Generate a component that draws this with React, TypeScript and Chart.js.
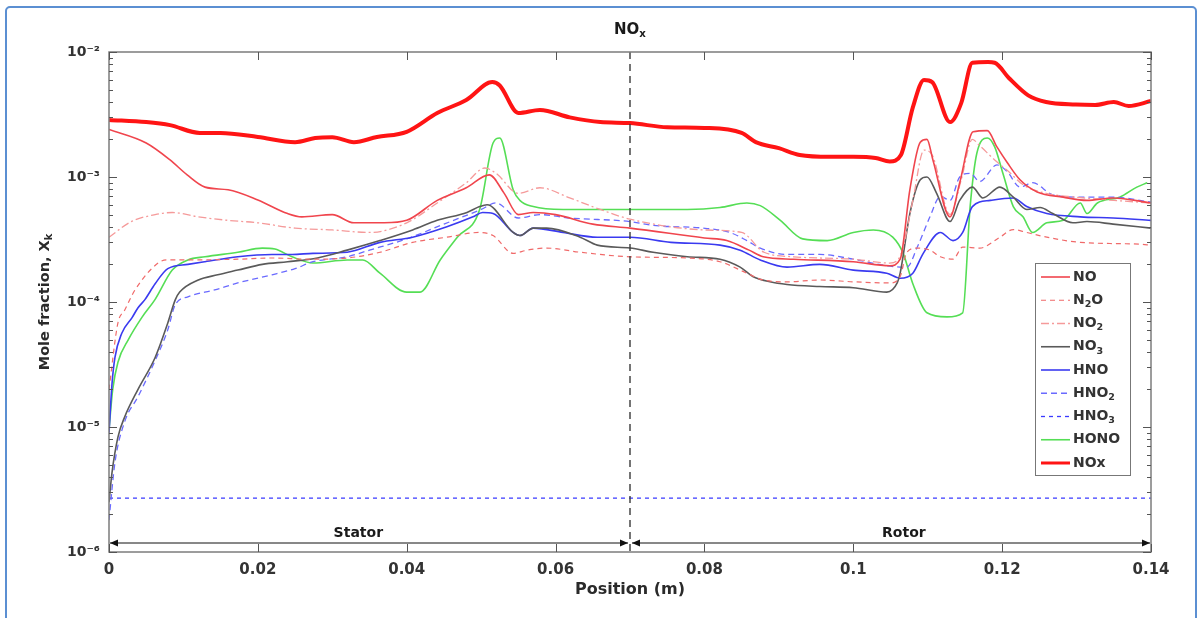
import React, { useEffect, useRef } from 'react';
import { Chart, registerables } from 'chart.js';

Chart.register(...registerables);

type Pt = [number, number];

// ---------- axes / annotations ----------
const X_TICKS = [0, 0.02, 0.04, 0.06, 0.08, 0.1, 0.12, 0.14];
const Y_DECADES = [1e-6, 1e-5, 1e-4, 1e-3, 1e-2];
const Y_TICK_LABELS = ['10⁻⁶', '10⁻⁵', '10⁻⁴', '10⁻³', '10⁻²'];
const BOUNDARY_X = 0.07;
const ZONES = ['Stator', 'Rotor'];
const ZONE_LABEL_X = [0.0335, 0.1068];

// ---------- series: [position (m), mole fraction] ----------
const NOX: Pt[] = [
  [0, 2.86e-3], [0.005, 2.75e-3], [0.0082, 2.6e-3], [0.0122, 2.25e-3], [0.015, 2.25e-3],
  [0.02, 2.09e-3], [0.025, 1.9e-3], [0.0277, 2.05e-3], [0.03, 2.08e-3], [0.0329, 1.9e-3],
  [0.036, 2.09e-3], [0.04, 2.3e-3], [0.0441, 3.25e-3], [0.048, 4.13e-3], [0.0515, 5.75e-3],
  [0.0525, 5.4e-3], [0.055, 3.25e-3], [0.0579, 3.44e-3], [0.0619, 3.0e-3], [0.066, 2.75e-3],
  [0.07, 2.7e-3], [0.075, 2.5e-3], [0.08, 2.47e-3], [0.085, 2.25e-3], [0.0869, 1.9e-3],
  [0.09, 1.7e-3], [0.0928, 1.5e-3], [0.0969, 1.45e-3], [0.1, 1.45e-3], [0.103, 1.42e-3],
  [0.1049, 1.33e-3], [0.1064, 1.5e-3], [0.108, 3.6e-3], [0.1095, 5.97e-3], [0.1106, 5.75e-3],
  [0.113, 2.75e-3], [0.1145, 3.9e-3], [0.116, 8.2e-3], [0.1181, 8.3e-3], [0.119, 8.2e-3],
  [0.1209, 6.2e-3], [0.1235, 4.5e-3], [0.1259, 3.98e-3], [0.1299, 3.8e-3], [0.1325, 3.77e-3],
  [0.135, 3.98e-3], [0.137, 3.7e-3], [0.14, 4.05e-3],
];

const NO: Pt[] = [
  [0, 2.4e-3], [0.005, 1.87e-3], [0.0082, 1.37e-3], [0.0105, 1.04e-3], [0.0129, 8.3e-4],
  [0.016, 7.9e-4], [0.02, 6.55e-4], [0.024, 5.1e-4], [0.0259, 4.8e-4], [0.03, 5.0e-4],
  [0.0329, 4.3e-4], [0.037, 4.3e-4], [0.04, 4.5e-4], [0.0441, 6.5e-4], [0.048, 8.2e-4],
  [0.0511, 1.04e-3], [0.0531, 7.4e-4], [0.055, 5.0e-4], [0.057, 5.2e-4], [0.06, 5.0e-4],
  [0.065, 4.2e-4], [0.07, 3.9e-4], [0.08, 3.25e-4], [0.083, 3.1e-4], [0.086, 2.6e-4],
  [0.0879, 2.3e-4], [0.092, 2.2e-4], [0.1, 2.1e-4], [0.1049, 1.95e-4], [0.1063, 2.2e-4],
  [0.1076, 7.9e-4], [0.109, 1.9e-3], [0.1099, 2.0e-3], [0.1107, 1.37e-3], [0.113, 4.8e-4],
  [0.1143, 9.0e-4], [0.1161, 2.3e-3], [0.118, 2.35e-3], [0.1193, 1.74e-3], [0.1207, 1.3e-3],
  [0.1224, 9.5e-4], [0.1247, 7.6e-4], [0.1282, 6.9e-4], [0.1314, 6.5e-4], [0.1349, 6.8e-4],
  [0.14, 6.2e-4],
];

const N2O: Pt[] = [
  [0, 2.0e-5], [0.0012, 6.8e-5], [0.0021, 8.6e-5], [0.0035, 1.25e-4], [0.0066, 2.05e-4],
  [0.0078, 2.17e-4], [0.0106, 2.17e-4], [0.0173, 2.2e-4], [0.0219, 2.25e-4], [0.027, 2.2e-4],
  [0.032, 2.25e-4], [0.0364, 2.5e-4], [0.0408, 3.0e-4], [0.0454, 3.3e-4], [0.0498, 3.6e-4],
  [0.0516, 3.4e-4], [0.0543, 2.45e-4], [0.0562, 2.6e-4], [0.0588, 2.7e-4], [0.0633, 2.5e-4],
  [0.07, 2.3e-4], [0.0777, 2.25e-4], [0.0821, 2.1e-4], [0.0857, 1.7e-4], [0.0879, 1.5e-4],
  [0.0911, 1.45e-4], [0.0955, 1.5e-4], [0.1, 1.45e-4], [0.1049, 1.42e-4], [0.1063, 1.6e-4],
  [0.1072, 2.5e-4], [0.1086, 2.7e-4], [0.1103, 2.6e-4], [0.1117, 2.3e-4], [0.1134, 2.2e-4],
  [0.1147, 2.75e-4], [0.117, 2.7e-4], [0.1197, 3.3e-4], [0.1215, 3.8e-4], [0.1233, 3.6e-4],
  [0.126, 3.3e-4], [0.1305, 3.0e-4], [0.1385, 2.9e-4], [0.14, 2.85e-4],
];

const NO2: Pt[] = [
  [0, 3.3e-4], [0.003, 4.4e-4], [0.0062, 5.0e-4], [0.0085, 5.2e-4], [0.012, 4.8e-4],
  [0.016, 4.5e-4], [0.02, 4.3e-4], [0.025, 3.9e-4], [0.03, 3.77e-4], [0.035, 3.6e-4],
  [0.04, 4.3e-4], [0.0441, 6.2e-4], [0.048, 9.0e-4], [0.0505, 1.18e-3], [0.052, 1.07e-3],
  [0.055, 7.4e-4], [0.0579, 8.2e-4], [0.0619, 6.8e-4], [0.066, 5.5e-4], [0.07, 4.6e-4],
  [0.08, 3.77e-4], [0.085, 3.6e-4], [0.088, 2.5e-4], [0.092, 2.3e-4], [0.1, 2.2e-4],
  [0.1049, 2.05e-4], [0.1064, 2.4e-4], [0.108, 6.5e-4], [0.1095, 1.64e-3], [0.1106, 1.5e-3],
  [0.113, 5.0e-4], [0.1145, 9.5e-4], [0.116, 2.0e-3], [0.1169, 1.8e-3], [0.119, 1.37e-3],
  [0.1209, 1.1e-3], [0.1229, 8.6e-4], [0.1259, 7.4e-4], [0.1299, 6.9e-4], [0.135, 6.5e-4],
  [0.14, 6.2e-4],
];

const NO3: Pt[] = [
  [0, 2.5e-6], [0.0004, 4.3e-6], [0.0012, 8.3e-6], [0.0021, 1.2e-5], [0.0039, 2.0e-5],
  [0.0062, 3.6e-5], [0.0079, 6.8e-5], [0.0089, 1.04e-4], [0.0095, 1.2e-4], [0.012, 1.5e-4],
  [0.0146, 1.65e-4], [0.0173, 1.8e-4], [0.0206, 2.0e-4], [0.024, 2.1e-4], [0.028, 2.25e-4],
  [0.032, 2.6e-4], [0.0364, 3.1e-4], [0.0408, 3.77e-4], [0.0441, 4.5e-4], [0.0481, 5.2e-4],
  [0.0498, 5.8e-4], [0.0508, 6.0e-4], [0.0543, 3.6e-4], [0.0552, 3.4e-4], [0.057, 3.9e-4],
  [0.0588, 3.9e-4], [0.0633, 3.3e-4], [0.0656, 2.85e-4], [0.07, 2.7e-4], [0.0731, 2.5e-4],
  [0.0777, 2.3e-4], [0.0821, 2.2e-4], [0.0848, 1.9e-4], [0.0865, 1.6e-4], [0.0888, 1.45e-4],
  [0.0911, 1.38e-4], [0.0955, 1.33e-4], [0.1, 1.3e-4], [0.1045, 1.2e-4], [0.1059, 1.42e-4],
  [0.1063, 1.7e-4], [0.1076, 5.1e-4], [0.109, 9.5e-4], [0.1099, 1.0e-3], [0.1112, 7.4e-4],
  [0.113, 4.4e-4], [0.1143, 6.5e-4], [0.116, 8.3e-4], [0.1174, 6.8e-4], [0.1197, 8.3e-4],
  [0.1215, 6.9e-4], [0.1233, 5.5e-4], [0.1251, 5.7e-4], [0.1268, 5.1e-4], [0.1295, 4.3e-4],
  [0.1314, 4.4e-4], [0.1349, 4.2e-4], [0.14, 3.9e-4],
];

const HNO: Pt[] = [
  [0, 9e-6], [0.0004, 2.2e-5], [0.0008, 3.6e-5], [0.0017, 5.6e-5], [0.0031, 7.5e-5],
  [0.0039, 9e-5], [0.0048, 1.04e-4], [0.0062, 1.4e-4], [0.0079, 1.85e-4], [0.0106, 2.0e-4],
  [0.0129, 2.1e-4], [0.0173, 2.3e-4], [0.0219, 2.4e-4], [0.0246, 2.4e-4], [0.0274, 2.45e-4],
  [0.032, 2.5e-4], [0.0364, 3.0e-4], [0.0408, 3.3e-4], [0.0454, 4.0e-4], [0.0489, 4.8e-4],
  [0.0502, 5.2e-4], [0.0516, 5.1e-4], [0.0543, 3.6e-4], [0.0552, 3.4e-4], [0.057, 3.9e-4],
  [0.061, 3.6e-4], [0.0656, 3.3e-4], [0.07, 3.3e-4], [0.0755, 3.0e-4], [0.0821, 2.85e-4],
  [0.0848, 2.6e-4], [0.0875, 2.17e-4], [0.0911, 1.9e-4], [0.0955, 2.0e-4], [0.1, 1.8e-4],
  [0.1045, 1.7e-4], [0.1063, 1.55e-4], [0.108, 1.7e-4], [0.1094, 2.45e-4], [0.1117, 3.6e-4],
  [0.1134, 3.1e-4], [0.1147, 3.6e-4], [0.116, 5.8e-4], [0.1184, 6.5e-4], [0.1215, 6.8e-4],
  [0.1233, 5.8e-4], [0.126, 5.1e-4], [0.1305, 4.8e-4], [0.1349, 4.7e-4], [0.14, 4.5e-4],
];

const HNO2: Pt[] = [
  [0, 1.8e-6], [0.0008, 5.2e-6], [0.0021, 1.1e-5], [0.0039, 1.75e-5], [0.0062, 3.4e-5],
  [0.0079, 6.0e-5], [0.0089, 9.5e-5], [0.0106, 1.1e-4], [0.0142, 1.25e-4], [0.0173, 1.42e-4],
  [0.0219, 1.65e-4], [0.025, 1.85e-4], [0.0274, 2.1e-4], [0.032, 2.3e-4], [0.035, 2.6e-4],
  [0.04, 3.2e-4], [0.045, 4.2e-4], [0.05, 5.5e-4], [0.052, 6.2e-4], [0.055, 4.7e-4],
  [0.0579, 5.0e-4], [0.0619, 4.7e-4], [0.07, 4.4e-4], [0.0731, 4.1e-4], [0.0798, 3.9e-4],
  [0.0834, 3.6e-4], [0.0857, 3.1e-4], [0.0875, 2.7e-4], [0.0911, 2.4e-4], [0.0955, 2.4e-4],
  [0.1, 2.2e-4], [0.1045, 1.95e-4], [0.1072, 1.9e-4], [0.1086, 2.75e-4], [0.1103, 4.8e-4],
  [0.1117, 7.0e-4], [0.113, 6.5e-4], [0.1143, 1.0e-3], [0.1157, 1.07e-3], [0.117, 9.2e-4],
  [0.1193, 1.25e-3], [0.1207, 1.1e-3], [0.1224, 8.3e-4], [0.1241, 9.0e-4], [0.1268, 7.2e-4],
  [0.1305, 6.9e-4], [0.1349, 6.9e-4], [0.14, 6.3e-4],
];

const HNO3: Pt[] = [
  [0, 2.7e-6], [0.02, 2.7e-6], [0.04, 2.7e-6], [0.06, 2.7e-6], [0.08, 2.7e-6],
  [0.1, 2.7e-6], [0.12, 2.7e-6], [0.14, 2.7e-6],
];

const HONO: Pt[] = [
  [0, 9.5e-6], [0.0005, 2.0e-5], [0.0012, 3.3e-5], [0.0026, 5.0e-5], [0.0044, 7.5e-5],
  [0.0062, 1.05e-4], [0.0085, 1.8e-4], [0.0106, 2.17e-4], [0.0129, 2.3e-4], [0.0173, 2.5e-4],
  [0.0206, 2.7e-4], [0.0223, 2.65e-4], [0.0246, 2.3e-4], [0.0274, 2.05e-4], [0.032, 2.17e-4],
  [0.0341, 2.17e-4], [0.0364, 1.7e-4], [0.04, 1.2e-4], [0.0418, 1.2e-4], [0.0445, 2.17e-4],
  [0.0468, 3.3e-4], [0.0498, 5.5e-4], [0.0516, 1.87e-3], [0.0525, 2.05e-3], [0.0543, 7.9e-4],
  [0.0552, 6.5e-4], [0.057, 5.8e-4], [0.061, 5.5e-4], [0.07, 5.5e-4], [0.0777, 5.5e-4],
  [0.0821, 5.7e-4], [0.0857, 6.2e-4], [0.0875, 5.9e-4], [0.0902, 4.5e-4], [0.0932, 3.2e-4],
  [0.0965, 3.1e-4], [0.1, 3.6e-4], [0.1027, 3.77e-4], [0.1053, 3.3e-4], [0.1067, 2.45e-4],
  [0.108, 1.4e-4], [0.1099, 8.2e-5], [0.1126, 7.6e-5], [0.1147, 8.2e-5], [0.1157, 5.8e-4],
  [0.1166, 1.55e-3], [0.118, 2.05e-3], [0.119, 1.74e-3], [0.1201, 1.07e-3], [0.1215, 5.8e-4],
  [0.1228, 4.8e-4], [0.1241, 3.6e-4], [0.126, 4.3e-4], [0.1282, 4.5e-4], [0.1305, 6.2e-4],
  [0.1314, 5.1e-4], [0.1328, 6.2e-4], [0.1358, 6.9e-4], [0.1381, 8.3e-4], [0.1395, 9.0e-4],
];

// legend label parts: [text, isSubscript]
type Part = [string, boolean];
const SERIES: { parts: Part[]; data: Pt[]; color: string; width: number; dash: number[] }[] = [
  { parts: [['NO', false]], data: NO, color: '#f0454d', width: 1.6, dash: [] },
  { parts: [['N', false], ['2', true], ['O', false]], data: N2O, color: '#f06a6a', width: 1.2, dash: [5, 4] },
  { parts: [['NO', false], ['2', true]], data: NO2, color: '#f59a9a', width: 1.3, dash: [8, 3, 2, 3] },
  { parts: [['NO', false], ['3', true]], data: NO3, color: '#5a5a5a', width: 1.6, dash: [] },
  { parts: [['HNO', false]], data: HNO, color: '#3a3af0', width: 1.6, dash: [] },
  { parts: [['HNO', false], ['2', true]], data: HNO2, color: '#6a6aff', width: 1.3, dash: [6, 4] },
  { parts: [['HNO', false], ['3', true]], data: HNO3, color: '#3a3aff', width: 1.3, dash: [4, 4] },
  { parts: [['HONO', false]], data: HONO, color: '#55de55', width: 1.6, dash: [] },
  { parts: [['NOx', false]], data: NOX, color: '#ff1414', width: 4, dash: [] },
];

const FONT = 'DejaVu Sans';

function drawParts(ctx: any, parts: Part[], x: number, y: number, size: number, align: string, color: string) {
  const sub = size * 0.68;
  ctx.fillStyle = color;
  ctx.textBaseline = 'middle';
  ctx.textAlign = 'left';
  const widths = parts.map(([t, s]) => {
    ctx.font = `bold ${s ? sub : size}px "${FONT}"`;
    return ctx.measureText(t).width;
  });
  const total = widths.reduce((a, b) => a + b, 0);
  let cx = align === 'center' ? x - total / 2 : x;
  parts.forEach(([t, s], i) => {
    ctx.font = `bold ${s ? sub : size}px "${FONT}"`;
    ctx.fillText(t, cx, s ? y + size * 0.32 : y);
    cx += widths[i];
  });
}

const decorPlugin = {
  id: 'decor',
  beforeDraw(chart: any) {
    const ctx = chart.ctx;
    ctx.save();
    ctx.fillStyle = '#ffffff';
    ctx.fillRect(0, 0, chart.width, chart.height);
    ctx.strokeStyle = '#5b8fd2';
    ctx.lineWidth = 2;
    ctx.beginPath();
    if (ctx.roundRect) ctx.roundRect(6, 7, 1190, 650, 4);
    else ctx.rect(6, 7, 1190, 650);
    ctx.stroke();
    ctx.restore();
  },
  afterDatasetsDraw(chart: any) {
    const ctx = chart.ctx;
    const a = chart.chartArea;
    const xs = chart.scales.x;
    const ys = chart.scales.y;
    ctx.save();
    // stator / rotor boundary
    const bx = xs.getPixelForValue(BOUNDARY_X);
    ctx.strokeStyle = '#3a3a3a';
    ctx.lineWidth = 1.4;
    ctx.setLineDash([7, 5]);
    ctx.beginPath();
    ctx.moveTo(bx, a.top);
    ctx.lineTo(bx, a.bottom);
    ctx.stroke();
    ctx.setLineDash([]);

    // axis box
    ctx.strokeStyle = '#7c7c7c';
    ctx.lineWidth = 1.5;
    ctx.strokeRect(a.left, a.top, a.right - a.left, a.bottom - a.top);

    // ticks
    ctx.strokeStyle = '#555';
    ctx.lineWidth = 1;
    ctx.beginPath();
    X_TICKS.forEach((v) => {
      const px = Math.round(xs.getPixelForValue(v)) + 0.5;
      ctx.moveTo(px, a.bottom);
      ctx.lineTo(px, a.bottom - 8);
      ctx.moveTo(px, a.top);
      ctx.lineTo(px, a.top + 8);
    });
    Y_DECADES.forEach((d, i) => {
      const py = Math.round(ys.getPixelForValue(d)) + 0.5;
      ctx.moveTo(a.left, py);
      ctx.lineTo(a.left + 8, py);
      ctx.moveTo(a.right, py);
      ctx.lineTo(a.right - 8, py);
      if (i < Y_DECADES.length - 1) {
        for (let k = 2; k <= 9; k++) {
          const pm = Math.round(ys.getPixelForValue(k * d)) + 0.5;
          ctx.moveTo(a.left, pm);
          ctx.lineTo(a.left + 4, pm);
          ctx.moveTo(a.right, pm);
          ctx.lineTo(a.right - 4, pm);
        }
      }
    });
    ctx.stroke();

    // zone arrows
    const yA = a.bottom - 9;
    const arrow = (x1: number, x2: number) => {
      ctx.strokeStyle = '#111';
      ctx.fillStyle = '#111';
      ctx.lineWidth = 1;
      ctx.beginPath();
      ctx.moveTo(x1, yA);
      ctx.lineTo(x2, yA);
      ctx.stroke();
      ctx.beginPath();
      ctx.moveTo(x1, yA);
      ctx.lineTo(x1 + 8, yA - 3.5);
      ctx.lineTo(x1 + 8, yA + 3.5);
      ctx.closePath();
      ctx.fill();
      ctx.beginPath();
      ctx.moveTo(x2, yA);
      ctx.lineTo(x2 - 8, yA - 3.5);
      ctx.lineTo(x2 - 8, yA + 3.5);
      ctx.closePath();
      ctx.fill();
    };
    arrow(a.left + 1, bx - 2);
    arrow(bx + 2, a.right - 1);
    ZONES.forEach((z, i) => {
      drawParts(ctx, [[z, false]], xs.getPixelForValue(ZONE_LABEL_X[i]), yA - 10, 14, 'center', '#1a1a1a');
    });
    ctx.restore();
  },
  afterDraw(chart: any) {
    const ctx = chart.ctx;
    const a = chart.chartArea;
    ctx.save();
    const cx = (a.left + a.right) / 2;
    // title
    drawParts(ctx, [['NO', false], ['x', true]], cx, 30, 15, 'center', '#1a1a1a');
    // x title
    drawParts(ctx, [['Position (m)', false]], cx, 590, 16, 'center', '#2a2a2a');
    // y title
    ctx.save();
    ctx.translate(45, (a.top + a.bottom) / 2);
    ctx.rotate(-Math.PI / 2);
    drawParts(ctx, [['Mole fraction, X', false], ['k', true]], 0, 0, 14.5, 'center', '#2a2a2a');
    ctx.restore();

    // legend
    const lx = a.right - 116;
    const ly = 263;
    const lw = 95;
    const lh = 212;
    ctx.fillStyle = '#ffffff';
    ctx.fillRect(lx, ly, lw, lh);
    ctx.strokeStyle = '#777';
    ctx.lineWidth = 1;
    ctx.strokeRect(lx + 0.5, ly + 0.5, lw, lh);
    SERIES.forEach((s, i) => {
      const yy = ly + 14 + i * 23.25;
      ctx.strokeStyle = s.color;
      ctx.lineWidth = s.width === 4 ? 3 : s.width;
      ctx.setLineDash(s.dash);
      ctx.beginPath();
      ctx.moveTo(lx + 6, yy);
      ctx.lineTo(lx + 35, yy);
      ctx.stroke();
      ctx.setLineDash([]);
      drawParts(ctx, s.parts, lx + 38, yy, 14, 'left', '#333');
    });
    ctx.restore();
  },
};

export default function App() {
  const ref = useRef<HTMLCanvasElement | null>(null);
  useEffect(() => {
    if (!ref.current) return;
    const chart = new Chart(ref.current, {
      type: 'line',
      data: {
        datasets: SERIES.map((s) => ({
          label: s.parts.map((p) => p[0]).join(''),
          data: s.data.map(([x, y]) => ({ x, y })),
          borderColor: s.color,
          backgroundColor: s.color,
          borderWidth: s.width,
          borderDash: s.dash,
          pointRadius: 0,
          fill: false,
          cubicInterpolationMode: 'monotone',
        })),
      },
      options: {
        animation: false,
        responsive: false,
        devicePixelRatio: 1,
        layout: { padding: { left: 0, right: 48, top: 52, bottom: 0 } },
        plugins: { legend: { display: false }, title: { display: false }, tooltip: { enabled: false } },
        scales: {
          x: {
            type: 'linear',
            min: 0,
            max: 0.14,
            afterBuildTicks: (s: any) => {
              s.ticks = X_TICKS.map((v) => ({ value: v }));
            },
            afterFit: (s: any) => {
              s.height = 66;
            },
            grid: { display: false, drawTicks: false },
            border: { display: false },
            ticks: {
              autoSkip: false,
              maxRotation: 0,
              padding: 9,
              color: '#333',
              font: { family: FONT, size: 15, weight: 'bold' },
              callback: (v: any) => String(Number(Number(v).toFixed(2))),
            },
          },
          y: {
            type: 'logarithmic',
            min: 1e-6,
            max: 1e-2,
            afterBuildTicks: (s: any) => {
              s.ticks = Y_DECADES.map((v) => ({ value: v }));
            },
            afterFit: (s: any) => {
              s.width = 109;
            },
            grid: { display: false, drawTicks: false },
            border: { display: false },
            ticks: {
              autoSkip: false,
              padding: 9,
              color: '#333',
              font: { family: FONT, size: 14, weight: 'bold' },
              callback: (v: any) => {
                const i = Y_DECADES.findIndex((d) => Math.abs(Math.log10(d) - Math.log10(Number(v))) < 1e-6);
                return i >= 0 ? Y_TICK_LABELS[i] : '';
              },
            },
          },
        },
      },
      plugins: [decorPlugin],
    } as any);
    return () => chart.destroy();
  }, []);
  return (
    <div style={{ position: 'fixed', left: 0, top: 0, width: 1199, height: 618 }}>
      <canvas ref={ref} width={1199} height={618} style={{ display: 'block', width: 1199, height: 618 }} />
    </div>
  );
}
